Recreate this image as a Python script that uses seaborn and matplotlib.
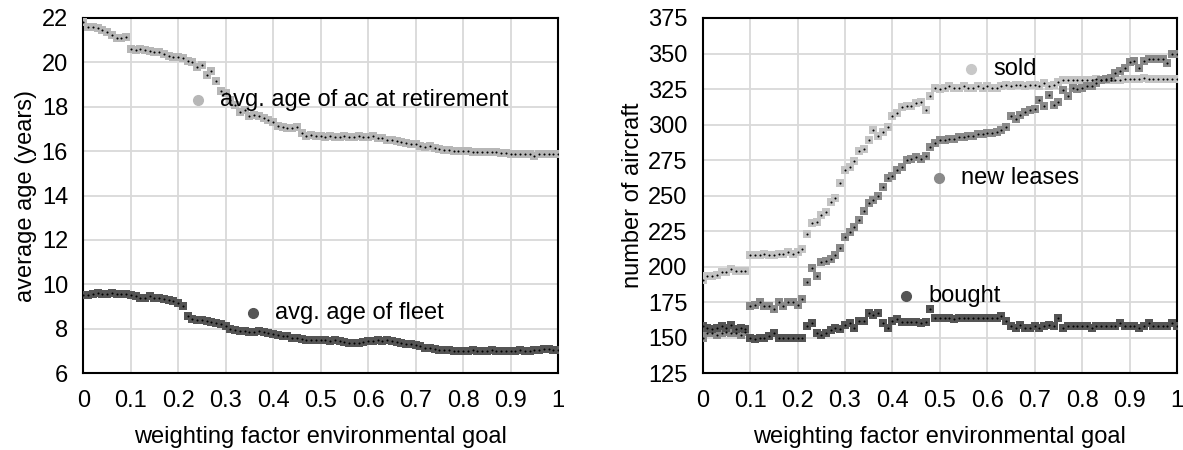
import numpy as np
import pandas as pd
import matplotlib
matplotlib.use("Agg")
import matplotlib.pyplot as plt
import seaborn as sns

# weighting factor of the environmental goal (0 .. 1 in steps of 0.01)
weights = [round(i * 0.01, 2) for i in range(101)]

# left panel: average ages in years
age_retirement = [
    21.8, 21.6, 21.6, 21.55, 21.45, 21.35, 21.25, 21.1, 21.1, 21.15,
    20.6, 20.55, 20.6, 20.55, 20.5, 20.45, 20.45, 20.4, 20.3, 20.25,
    20.25, 20.2, 20.05, 20.0, 19.8, 19.9, 19.45, 19.6, 19.15, 18.7,
    18.6, 18.3, 18.1, 17.75, 17.85, 17.6, 17.65, 17.6, 17.5, 17.4,
    17.3, 17.15, 17.1, 17.05, 17.05, 17.1, 16.8, 16.7, 16.75, 16.7,
    16.7, 16.65, 16.7, 16.65, 16.65, 16.7, 16.65, 16.65, 16.7, 16.65,
    16.65, 16.7, 16.6, 16.6, 16.5, 16.5, 16.45, 16.4, 16.35, 16.3,
    16.3, 16.25, 16.2, 16.25, 16.15, 16.1, 16.05, 16.05, 16.0, 16.0,
    16.0, 16.0, 15.95, 15.95, 15.95, 15.95, 15.95, 15.95, 15.9, 15.9,
    15.85, 15.85, 15.85, 15.85, 15.85, 15.8, 15.85, 15.85, 15.85, 15.85,
    15.85,
]
age_fleet = [
    9.5, 9.5, 9.55, 9.6, 9.55, 9.55, 9.6, 9.55, 9.55, 9.55,
    9.5, 9.45, 9.4, 9.4, 9.45, 9.4, 9.4, 9.35, 9.3, 9.25,
    9.15, 9.0, 8.55, 8.45, 8.4, 8.4, 8.35, 8.3, 8.25, 8.2,
    8.1, 8.0, 7.95, 7.9, 7.9, 7.85, 7.85, 7.9, 7.85, 7.8,
    7.75, 7.7, 7.65, 7.65, 7.6, 7.6, 7.55, 7.5, 7.5, 7.5,
    7.5, 7.5, 7.45, 7.5, 7.45, 7.4, 7.35, 7.35, 7.35, 7.4,
    7.45, 7.45, 7.5, 7.45, 7.5, 7.45, 7.4, 7.35, 7.3, 7.3,
    7.25, 7.2, 7.15, 7.15, 7.1, 7.05, 7.05, 7.05, 7.0, 7.0,
    7.0, 7.0, 7.05, 7.0, 7.0, 7.0, 7.05, 7.0, 7.0, 7.0,
    7.0, 7.0, 7.05, 7.0, 7.0, 7.05, 7.05, 7.1, 7.1, 7.05,
    7.05,
]

# right panel: number of aircraft
n_sold = [
    190.5, 193, 193, 194, 196, 196, 198, 197, 197, 197,
    208, 208, 208, 209, 208, 208, 209, 209, 210, 209,
    210, 212, 223, 231, 231.5, 236.5, 238.7, 245.7, 248, 258.7,
    268, 270, 274, 281, 283, 289, 296, 292, 295, 298,
    306, 308, 312, 313, 313, 315, 316, 310, 320, 326,
    325, 326, 327, 326, 326, 327, 326, 326, 327, 326,
    327, 326, 326, 327, 328, 327, 328, 328, 327, 328,
    328, 327, 329, 327, 328, 330, 331, 331, 331, 331,
    331, 331, 331, 332, 331, 331, 331, 331, 331, 332,
    332, 332, 332, 333, 332, 332, 332, 332, 332, 332,
    332,
]
n_leases = [
    150, 153, 153, 152, 153, 154, 153, 153, 152, 154,
    172, 173, 175, 172, 172, 170, 175, 172, 175, 175,
    173, 177, 189, 199, 193, 203, 204, 205, 208, 213,
    221, 224, 228, 233, 239, 245, 247, 250, 256, 262,
    264, 268, 270, 275, 276, 277, 276, 278, 284, 287,
    289, 289, 290, 290, 291, 291, 292, 292, 293, 293,
    294, 294, 295, 296, 298, 306, 304, 307, 309, 310,
    311, 317, 313, 321, 314, 316, 324, 320, 326, 325,
    326, 327, 327, 329, 331, 332, 333, 336, 338, 340,
    344, 345, 340, 345, 346, 346, 346, 346, 343, 350,
    350,
]
n_bought = [
    158, 157, 156, 157, 158, 157, 159, 156, 157, 156,
    150, 149, 150, 150, 151, 153, 150, 150, 150, 150,
    150, 150, 158, 160, 153, 152, 153, 155, 157, 156,
    159, 160, 157, 162, 162, 167, 166, 167, 160, 157,
    162, 163, 161, 161, 161, 161, 160, 161, 170, 164,
    164, 164, 164, 163, 164, 164, 164, 164, 164, 164,
    164, 164, 164, 165, 162, 158, 157, 159, 157, 157,
    158, 157, 158, 159, 158, 164, 157, 158, 158, 158,
    158, 158, 157, 158, 158, 158, 158, 158, 160, 158,
    158, 158, 157, 158, 160, 158, 158, 158, 158, 160,
    158,
]

x_ticks = [0, 0.1, 0.2, 0.3, 0.4, 0.5, 0.6, 0.7, 0.8, 0.9, 1]
x_ticklabels = ["0", "0.1", "0.2", "0.3", "0.4", "0.5", "0.6", "0.7", "0.8", "0.9", "1"]
left_yticks = [6, 8, 10, 12, 14, 16, 18, 20, 22]
right_yticks = [125, 150, 175, 200, 225, 250, 275, 300, 325, 350, 375]

LIGHT = "#b7b7b7"
MID = "#8a8a8a"
DARK = "#555555"
FS = 17

sns.set_style("white")
plt.rcParams["font.family"] = ["Liberation Sans", "DejaVu Sans"]
plt.rcParams["font.size"] = FS
plt.rcParams["text.color"] = "black"
plt.rcParams["axes.labelcolor"] = "black"

fig = plt.figure(figsize=(11.83, 4.5), dpi=100)
ax1 = fig.add_axes([0.0704, 0.171, 0.4013, 0.789])
ax2 = fig.add_axes([0.594, 0.171, 0.4009, 0.789])


def draw_series(ax, values, color):
    df = pd.DataFrame({"w": weights, "v": values})
    sns.scatterplot(data=df, x="w", y="v", ax=ax, marker="s", s=26,
                    color=color, linewidth=0, zorder=3)
    sns.scatterplot(data=df, x="w", y="v", ax=ax, marker="o", s=2.2,
                    color="black", linewidth=0, zorder=4)


def label(ax, x, y, text, color):
    ax.plot([x], [y], marker="o", markersize=7, color=color,
            linestyle="none", zorder=5)
    ax.text(x + 0.047, y, text, va="center", ha="left", fontsize=FS,
            color="black", zorder=5)


def style_axes(ax, yticks, ylabel):
    ax.set_xlim(0, 1)
    ax.set_ylim(yticks[0], yticks[-1])
    ax.set_xticks(x_ticks)
    ax.set_xticklabels(x_ticklabels)
    ax.set_yticks(yticks)
    ax.grid(True, color="#d9d9d9", linewidth=1.3, zorder=0)
    ax.set_axisbelow(True)
    for sp in ax.spines.values():
        sp.set_visible(True)
        sp.set_color("black")
        sp.set_linewidth(1.5)
    ax.tick_params(axis="both", direction="out", length=8, width=1.5,
                   color="black", labelsize=FS, labelcolor="black")
    ax.tick_params(axis="x", pad=4)
    ax.tick_params(axis="y", pad=3)
    ax.tick_params(top=False, right=False)
    ax.set_xlabel("weighting factor environmental goal", fontsize=FS,
                  labelpad=10, color="black")
    ax.set_ylabel(ylabel, fontsize=FS, labelpad=3, color="black")


draw_series(ax1, age_retirement, LIGHT)
draw_series(ax1, age_fleet, DARK)
style_axes(ax1, left_yticks, "average age (years)")
label(ax1, 0.242, 18.3, "avg. age of ac at retirement", LIGHT)
label(ax1, 0.357, 8.7, "avg. age of fleet", DARK)

draw_series(ax2, n_sold, "#c4c4c4")
draw_series(ax2, n_leases, MID)
draw_series(ax2, n_bought, DARK)
style_axes(ax2, right_yticks, "number of aircraft")
label(ax2, 0.565, 339, "sold", "#c8c8c8")
label(ax2, 0.498, 262.5, "new leases", MID)
label(ax2, 0.428, 179, "bought", DARK)

fig.savefig("out.png", dpi=100)
